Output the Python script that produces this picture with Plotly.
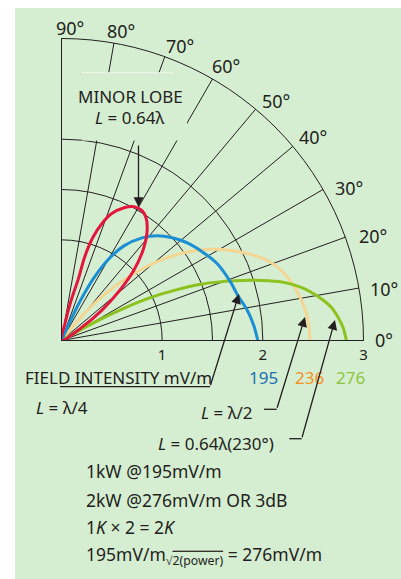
import plotly.graph_objects as go

W, H = 401, 579

# ---- data (angle in degrees, radius in chart units) ----
red_theta = [31, 33.0, 36.87, 40.76, 44.2, 48.0, 51.8, 55.45, 58.2, 61.6, 64.8, 68.4, 70.97,
             73.1, 74.5, 74.67, 76.68, 78.37, 79.5]
red_r     = [0, 0.2385, 0.5, 0.766, 1.004, 1.211, 1.374, 1.481, 1.518, 1.512, 1.458, 1.356, 1.227,
             1.066, 0.861, 0.643, 0.39, 0.174, 0]

blue_theta = [0, 4.49, 9.56, 14.42, 19.05, 26.12, 32.15, 37.81, 42.84, 47.59, 51.89, 56.6, 60.1,
              62.7, 64.5, 65.6, 66.5]
blue_r     = [1.95, 1.916, 1.866, 1.807, 1.777, 1.726, 1.654, 1.582, 1.5, 1.409, 1.296, 1.126, 0.923,
              0.698, 0.465, 0.242, 0]

tan_theta = [0, 2.79, 5.66, 8.53, 11.31, 14.27, 17.49, 20.44, 23.18, 25.93, 28.56, 31.11, 33.54,
             35.94, 38.35, 40.71, 43.26, 45.54, 48.01, 50.19, 51.34, 52]
tan_r     = [2.468, 2.463, 2.452, 2.427, 2.397, 2.353, 2.296, 2.22, 2.121, 2.001, 1.879, 1.752, 1.62,
             1.482, 1.314, 1.135, 0.934, 0.743, 0.538, 0.312, 0.128, 0]

green_theta = [0, 2.45, 4.7, 7.02, 9.0, 10.95, 12.5, 14.52, 16.09, 17.64, 19.0, 20.51, 22.0,
               23.87, 25.78, 27.29, 28.55, 29.2, 30]
green_r     = [2.83, 2.803, 2.759, 2.7, 2.62, 2.526, 2.44, 2.293, 2.14, 1.973, 1.82, 1.655, 1.49,
               1.236, 0.98, 0.709, 0.439, 0.195, 0]

radial_ticks = [1, 1.5, 2, 3]
radial_labels = ["1", "", "2", "3"]
angle_ticks = list(range(0, 91, 10))
angle_labels = [f"{a}°" for a in angle_ticks]

value_labels = ["195", "236", "276"]

INK = "#231f20"
BG = "#d5edd0"
RED = "#e3173e"
BLUE = "#1b8fd3"
TAN = "#f4d592"
GREEN = "#8cc21f"
FONT = "Noto Sans"

def px(x):
    return x / W

def py(y):
    return 1 - y / H

fig = go.Figure()
for th, rr, col in [(tan_theta, tan_r, TAN), (green_theta, green_r, GREEN),
                    (blue_theta, blue_r, BLUE), (red_theta, red_r, RED)]:
    fig.add_trace(go.Scatterpolar(theta=th, r=rr, mode="lines",
                                  line=dict(color=col, width=3, shape="spline", smoothing=0.8),
                                  showlegend=False, hoverinfo="skip"))

x0, x1 = 61.5, 363.5
y0, y1 = 38, 341
fig.update_layout(
    width=W, height=H,
    margin=dict(l=0, r=0, t=0, b=0),
    paper_bgcolor="white",
    font=dict(family=FONT, color=INK),
    polar=dict(
        sector=[0, 90],
        domain=dict(x=[px(x0), px(x1)], y=[py(y1), py(y0)]),
        bgcolor="rgba(0,0,0,0)",
        radialaxis=dict(range=[0, 3], tickvals=radial_ticks, ticktext=radial_labels,
                        showline=True, linecolor=INK, linewidth=1,
                        gridcolor=INK, gridwidth=1, ticks="outside", ticklen=1,
                        tickcolor="rgba(0,0,0,0)", angle=0,
                        side="clockwise", tickfont=dict(size=15, color=INK)),
        angularaxis=dict(tickvals=angle_ticks, ticktext=angle_labels,
                         direction="counterclockwise", rotation=0,
                         showline=True, linecolor=INK, linewidth=1,
                         gridcolor=INK, gridwidth=1, ticks="",
                         showticklabels=False),
    ),
)

shapes = [
    dict(type="rect", xref="paper", yref="paper", x0=px(15), x1=1, y0=0, y1=py(8),
         fillcolor=BG, line=dict(width=0), layer="below"),
    dict(type="rect", xref="paper", yref="paper", x0=px(82), x1=px(187), y0=py(140.5), y1=py(73),
         fillcolor=BG, line=dict(width=0), layer="above"),
    dict(type="line", xref="paper", yref="paper", x0=px(82), x1=px(173), y0=py(72.7), y1=py(72.7),
         line=dict(color="#eef7ec", width=1), layer="above"),
    # leader lines
    dict(type="line", xref="paper", yref="paper", x0=px(60), x1=px(210), y0=py(386.7), y1=py(386.7),
         line=dict(color=INK, width=1.3), layer="above"),
    dict(type="line", xref="paper", yref="paper", x0=px(264), x1=px(276.7), y0=py(409.3), y1=py(409.3),
         line=dict(color=INK, width=1.3), layer="above"),
    dict(type="line", xref="paper", yref="paper", x0=px(289.3), x1=px(301.7), y0=py(438.7), y1=py(438.7),
         line=dict(color=INK, width=1.3), layer="above"),
]
fig.update_layout(shapes=shapes)

ann = []
def text(x, y, s, size=17, color=INK, xanchor="center"):
    ann.append(dict(x=px(x), y=py(y), xref="paper", yref="paper", text=s, showarrow=False,
                    xanchor=xanchor, yanchor="middle", font=dict(size=size, color=color, family=FONT)))

def arrow(hx, hy, tx, ty):
    ann.append(dict(x=px(hx), y=py(hy), xref="paper", yref="paper", text="", showarrow=True,
                    ax=tx - hx, ay=ty - hy, arrowhead=2, arrowsize=1.5, arrowwidth=1.3,
                    arrowcolor=INK, standoff=0))

# angular tick labels placed around the outer arc (label centres in pixels)
label_pos = [(384, 340), (383.5, 289), (372.5, 236), (349, 188), (312.5, 137),
             (275.5, 101), (226.5, 66), (179.5, 46), (121, 31), (69.5, 28)]
for (lx, ly), lab in zip(label_pos, angle_labels):
    text(lx, ly, lab, size=18)

text(130, 96, "MINOR LOBE")
text(129, 117.5, "<i>L</i> = 0.64λ")
text(118, 377, "FIELD INTENSITY mV/m")
text(263, 377, value_labels[0], color="#1f6fb7")
text(309, 377, value_labels[1], color="#f7901e")
text(350, 377, value_labels[2], color="#8cc63f")
text(61.7, 407.5, "<i>L</i> = λ/4")
text(226.7, 412, "<i>L</i> = λ/2")
text(215.5, 443, "<i>L</i> = 0.64λ(230°)")
text(84, 471, "1kW @195mV/m", size=17.5, xanchor="left")
text(84, 499.5, "2kW @276mV/m OR 3dB", size=17.5, xanchor="left")
text(84, 527, "1<i>K</i> × 2 = 2<i>K</i>", size=17.5, xanchor="left")
text(84, 555, "195mV/m<sub>√<span style='text-decoration:overline'>2(power)</span></sub> = 276mV/m",
     size=17.5, xanchor="left")

arrow(138.5, 207, 138.5, 144)
arrow(239, 294, 210, 386.7)
arrow(305, 317, 276.7, 409.3)
arrow(335, 320, 301.7, 438.7)

fig.update_layout(annotations=ann)
fig.write_html("out.html", config={"displayModeBar": False},
               post_script="document.body.style.margin='0px';document.body.style.overflow='hidden';")
